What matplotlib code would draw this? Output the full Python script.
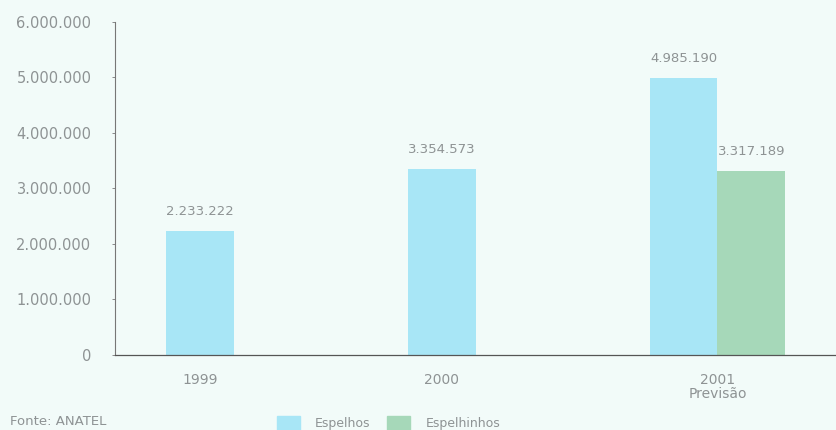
import matplotlib
matplotlib.use('Agg')
import matplotlib.pyplot as plt
from matplotlib.patches import Patch

years = ['1999', '2000', '2001\nPrevisão']
espelhos = [2233222, 3354573, 4985190]
espelhinhos = [None, None, 3317189]
yticks = [0, 1000000, 2000000, 3000000, 4000000, 5000000, 6000000]

BG = '#f2fbf9'
BLUE = '#a8e6f6'
GREEN = '#a6d8b9'
GREY = '#8e9394'


def fmt(v):
    return '{:,}'.format(v).replace(',', '.')


plt.rcParams['font.family'] = ['DejaVu Sans']

fig = plt.figure(figsize=(8.36, 4.30), dpi=100, facecolor=BG)
ax = fig.add_axes([0.1376, 0.1744, 0.8624, 0.7746], facecolor=BG)

pos = [0, 1, 2.14]
w = 0.28

for i, v in enumerate(espelhos):
    x = pos[i] - w / 2 if espelhinhos[i] is not None else pos[i]
    ax.bar(x, v, width=w, color=BLUE, edgecolor='none')
    ax.text(x, v + 230000, fmt(v), ha='center', va='bottom', fontsize=9.5, color=GREY)
    if espelhinhos[i] is not None:
        v2 = espelhinhos[i]
        ax.bar(pos[i] + w / 2, v2, width=w, color=GREEN, edgecolor='none')
        ax.text(pos[i] + w / 2, v2 + 230000, fmt(v2), ha='center', va='bottom',
                fontsize=9.5, color=GREY)

ax.set_xlim(-0.35, 2.63)
ax.set_ylim(0, 6000000)
ax.set_yticks(yticks)
ax.set_yticklabels([fmt(t) for t in yticks], fontsize=10.5, color=GREY)
ax.set_xticks(pos)
ax.set_xticklabels(years, fontsize=10, color=GREY, linespacing=1.0)
ax.tick_params(axis='y', length=2, width=0.6, color='#777777', pad=15)
ax.tick_params(axis='x', length=0, pad=13)

for s in ['top', 'right']:
    ax.spines[s].set_visible(False)
ax.spines['left'].set_color('#777777')
ax.spines['left'].set_linewidth(0.8)
ax.spines['bottom'].set_color('#555555')
ax.spines['bottom'].set_linewidth(0.9)

handles = [Patch(color=BLUE, label='Espelhos'), Patch(color=GREEN, label='Espelhinhos')]
leg = fig.legend(handles=handles, loc='lower left', bbox_to_anchor=(0.331, 0.0),
                 ncol=2, frameon=False, fontsize=9, handlelength=1.85, handleheight=1.3,
                 columnspacing=1.35, handletextpad=1.2, borderpad=0, borderaxespad=0)
for t in leg.get_texts():
    t.set_color(GREY)

fig.text(0.012, 0.004, 'Fonte: ANATEL', fontsize=9.5, color=GREY, ha='left', va='bottom')

fig.savefig('out.png', dpi=100, facecolor=BG)
